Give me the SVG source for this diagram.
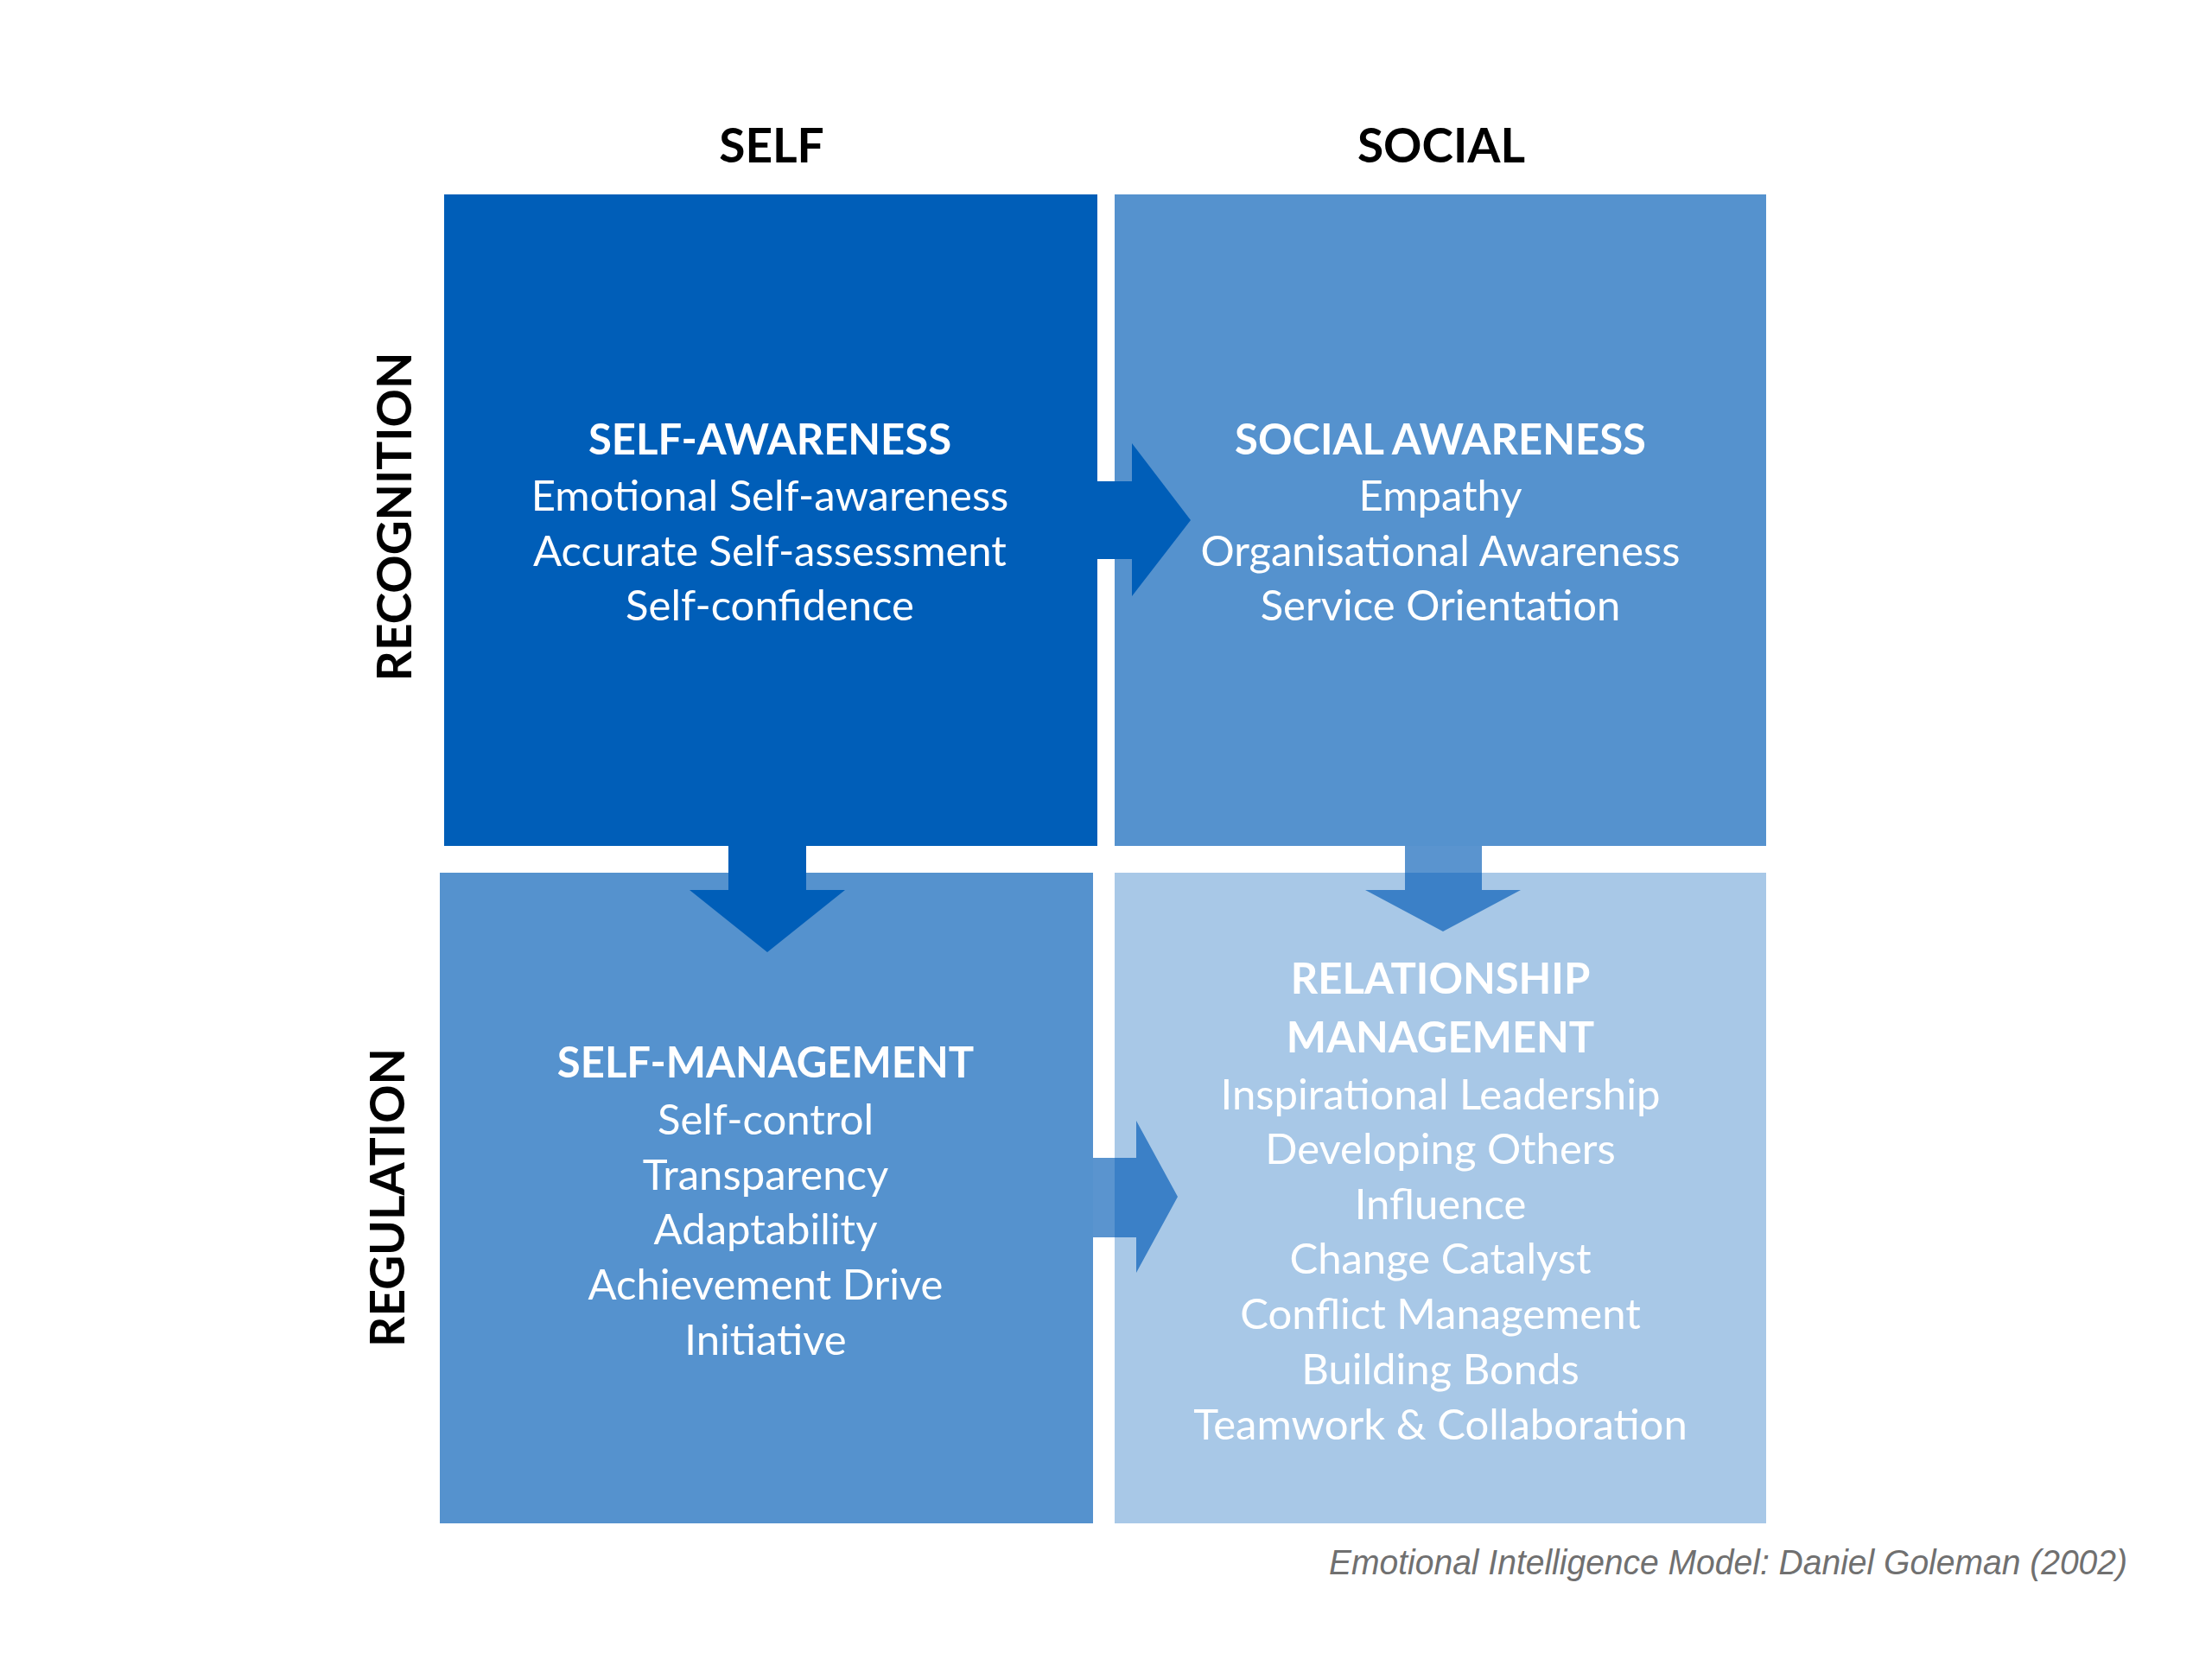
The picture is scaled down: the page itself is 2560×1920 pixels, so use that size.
<svg xmlns="http://www.w3.org/2000/svg" width="2560" height="1920" viewBox="0 0 2560 1920">
<style>
.lbl{font-family:Lato,"Open Sans","Liberation Sans",sans-serif;font-weight:bold;font-size:55px;fill:#000;text-anchor:middle}
.hd{font-family:Lato,"Open Sans","Liberation Sans",sans-serif;font-weight:bold;font-size:49px;fill:#fff;text-anchor:middle}
.it{font-family:Lato,"Open Sans","Liberation Sans",sans-serif;font-size:49px;fill:#fff;text-anchor:middle}
.cap{font-family:"Liberation Sans",Arial,sans-serif;font-style:italic;font-size:41px;fill:#707070}
</style>
<rect width="2560" height="1920" fill="#fff"/>
<g id="axis-labels">
<text class="lbl" x="893" y="188">SELF</text>
<text class="lbl" x="1668" y="188">SOCIAL</text>
<text class="lbl" transform="translate(476,598) rotate(-90)">RECOGNITION</text>
<text class="lbl" transform="translate(468,1386) rotate(-90)">REGULATION</text>
</g>
<g id="self-awareness">
<rect x="514" y="225" width="756" height="754" fill="#005EB8"/>
<text class="hd" x="891" y="526">SELF-AWARENESS</text>
<text class="it" x="891" y="591">Emotional Self-awareness</text>
<text class="it" x="891" y="655">Accurate Self-assessment</text>
<text class="it" x="891" y="718">Self-confidence</text>
</g>
<g id="social-awareness">
<rect x="1290" y="225" width="754" height="754" fill="#5592CE"/>
<text class="hd" x="1667" y="526">SOCIAL AWARENESS</text>
<text class="it" x="1667" y="591">Empathy</text>
<text class="it" x="1667" y="655">Organisational Awareness</text>
<text class="it" x="1667" y="718">Service Orientation</text>
</g>
<g id="self-management">
<rect x="509" y="1010" width="756" height="753" fill="#5592CE"/>
<text class="hd" x="886" y="1247">SELF-MANAGEMENT</text>
<text class="it" x="886" y="1313">Self-control</text>
<text class="it" x="886" y="1377">Transparency</text>
<text class="it" x="886" y="1440">Adaptability</text>
<text class="it" x="886" y="1504">Achievement Drive</text>
<text class="it" x="886" y="1568">Initiative</text>
</g>
<g id="relationship-management">
<rect x="1290" y="1010" width="754" height="753" fill="#A8C8E7"/>
<text class="hd" x="1667" y="1150">RELATIONSHIP</text>
<text class="hd" x="1667" y="1218">MANAGEMENT</text>
<text class="it" x="1667" y="1284">Inspirational Leadership</text>
<text class="it" x="1667" y="1347">Developing Others</text>
<text class="it" x="1667" y="1411">Influence</text>
<text class="it" x="1667" y="1474">Change Catalyst</text>
<text class="it" x="1667" y="1538">Conflict Management</text>
<text class="it" x="1667" y="1602">Building Bonds</text>
<text class="it" x="1667" y="1666">Teamwork &amp; Collaboration</text>
</g>
<g id="connectors">
<polygon fill="#005EB8" points="1260,557 1310,557 1310,513 1378,602 1310,690 1310,647 1260,647"/>
<polygon fill="#005EB8" points="843,970 933,970 933,1030 978,1030 888,1102 798,1030 843,1030"/>
<rect x="1626" y="979" width="89" height="31" fill="#5A94CF"/>
<polygon fill="#3B80C7" points="1626,1010 1715,1010 1715,1030 1760,1030 1670,1078 1580,1030 1626,1030"/>
<rect x="1265" y="1340" width="25" height="92" fill="#5A94CF"/>
<polygon fill="#3B80C7" points="1290,1340 1315,1340 1315,1297 1363,1385 1315,1473 1315,1432 1290,1432"/>
</g>
<text class="cap" x="1538" y="1822" textLength="924" lengthAdjust="spacingAndGlyphs">Emotional Intelligence Model: Daniel Goleman (2002)</text>
</svg>
